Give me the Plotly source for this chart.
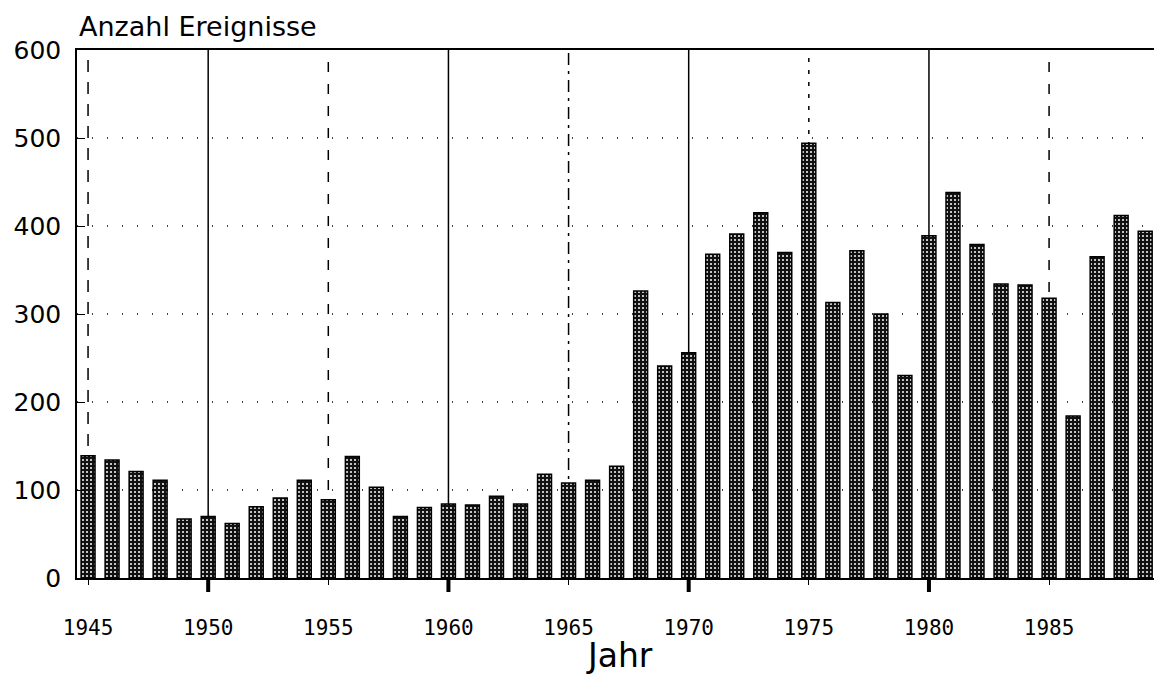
import plotly.graph_objects as go

years = list(range(1945, 1990))
counts = [139, 134, 121, 111, 67, 70, 62, 81, 91, 111,
          89, 138, 103, 70, 80, 84, 83, 93, 84, 118,
          108, 111, 127, 326, 241, 256, 368, 391, 415, 370,
          494, 313, 372, 300, 230, 389, 438, 379, 334, 333,
          318, 184, 365, 412, 394]

tick_years = [1945, 1950, 1955, 1960, 1965, 1970, 1975, 1980, 1985]
y_ticks = [0, 100, 200, 300, 400, 500, 600]

grid_years = [1945, 1950, 1955, 1960, 1965, 1970, 1975, 1980, 1985]
grid_dash = ["12px,10px", "solid", "10px,12px", "solid", "12px,6px,3px,6px",
             "solid", "4px,8px", "solid", "10px,12px"]
decade_marks = [1950, 1960, 1970, 1980]

fig = go.Figure()
fig.add_trace(go.Bar(
    x=years, y=counts, width=0.58,
    marker=dict(color="#111111", line=dict(color="black", width=1.5),
                pattern=dict(shape=".", fgcolor="white", bgcolor="#111111",
                             size=4, solidity=0.2, fillmode="replace")),
    showlegend=False,
))

for yr, d in zip(grid_years, grid_dash):
    fig.add_shape(type="line", x0=yr, x1=yr, y0=0, y1=1, xref="x", yref="paper",
                  line=dict(color="black", width=1.5, dash=d), layer="below")

for yr in decade_marks:
    fig.add_shape(type="line", x0=yr, x1=yr, xref="x", yref="paper",
                  ysizemode="pixel", yanchor=0, y0=0, y1=-14,
                  line=dict(color="black", width=4))

font = "DejaVu Sans, Liberation Sans, sans-serif"
fig.update_layout(
    width=1154, height=671,
    margin=dict(l=69, r=0, t=42, b=101),
    plot_bgcolor="white", paper_bgcolor="white",
    font=dict(family=font, color="black"),
    xaxis=dict(range=[1944.54, 1989.7], tickvals=tick_years,
               ticktext=[str(t) for t in tick_years],
               tickfont=dict(size=21, family="DejaVu Sans Mono, monospace"),
               ticks="outside", ticklen=5, tickcolor="black",
               ticklabelstandoff=25,
               showline=True, linecolor="black", linewidth=1.5, mirror=True,
               showgrid=False, zeroline=False),
    yaxis=dict(range=[0, 600], tickvals=y_ticks,
               tickfont=dict(size=25),
               ticks="inside", ticklen=8, tickcolor="black",
               ticklabelstandoff=9,
               showline=True, linecolor="black", linewidth=1.5,
               showgrid=True, gridcolor="#444444", griddash="1px,14px", gridwidth=1.5,
               zeroline=False),
    annotations=[
        dict(text="Anzahl Ereignisse", x=0, y=1.0, xref="paper", yref="paper",
             xanchor="left", yanchor="middle", yshift=24, showarrow=False,
             font=dict(size=27, family=font)),
        dict(text="Jahr", x=0.5, y=0, xref="paper", yref="paper",
             xanchor="center", yanchor="middle", yshift=-77, showarrow=False,
             font=dict(size=33, family=font)),
    ],
)

fig.write_html("out.html")
